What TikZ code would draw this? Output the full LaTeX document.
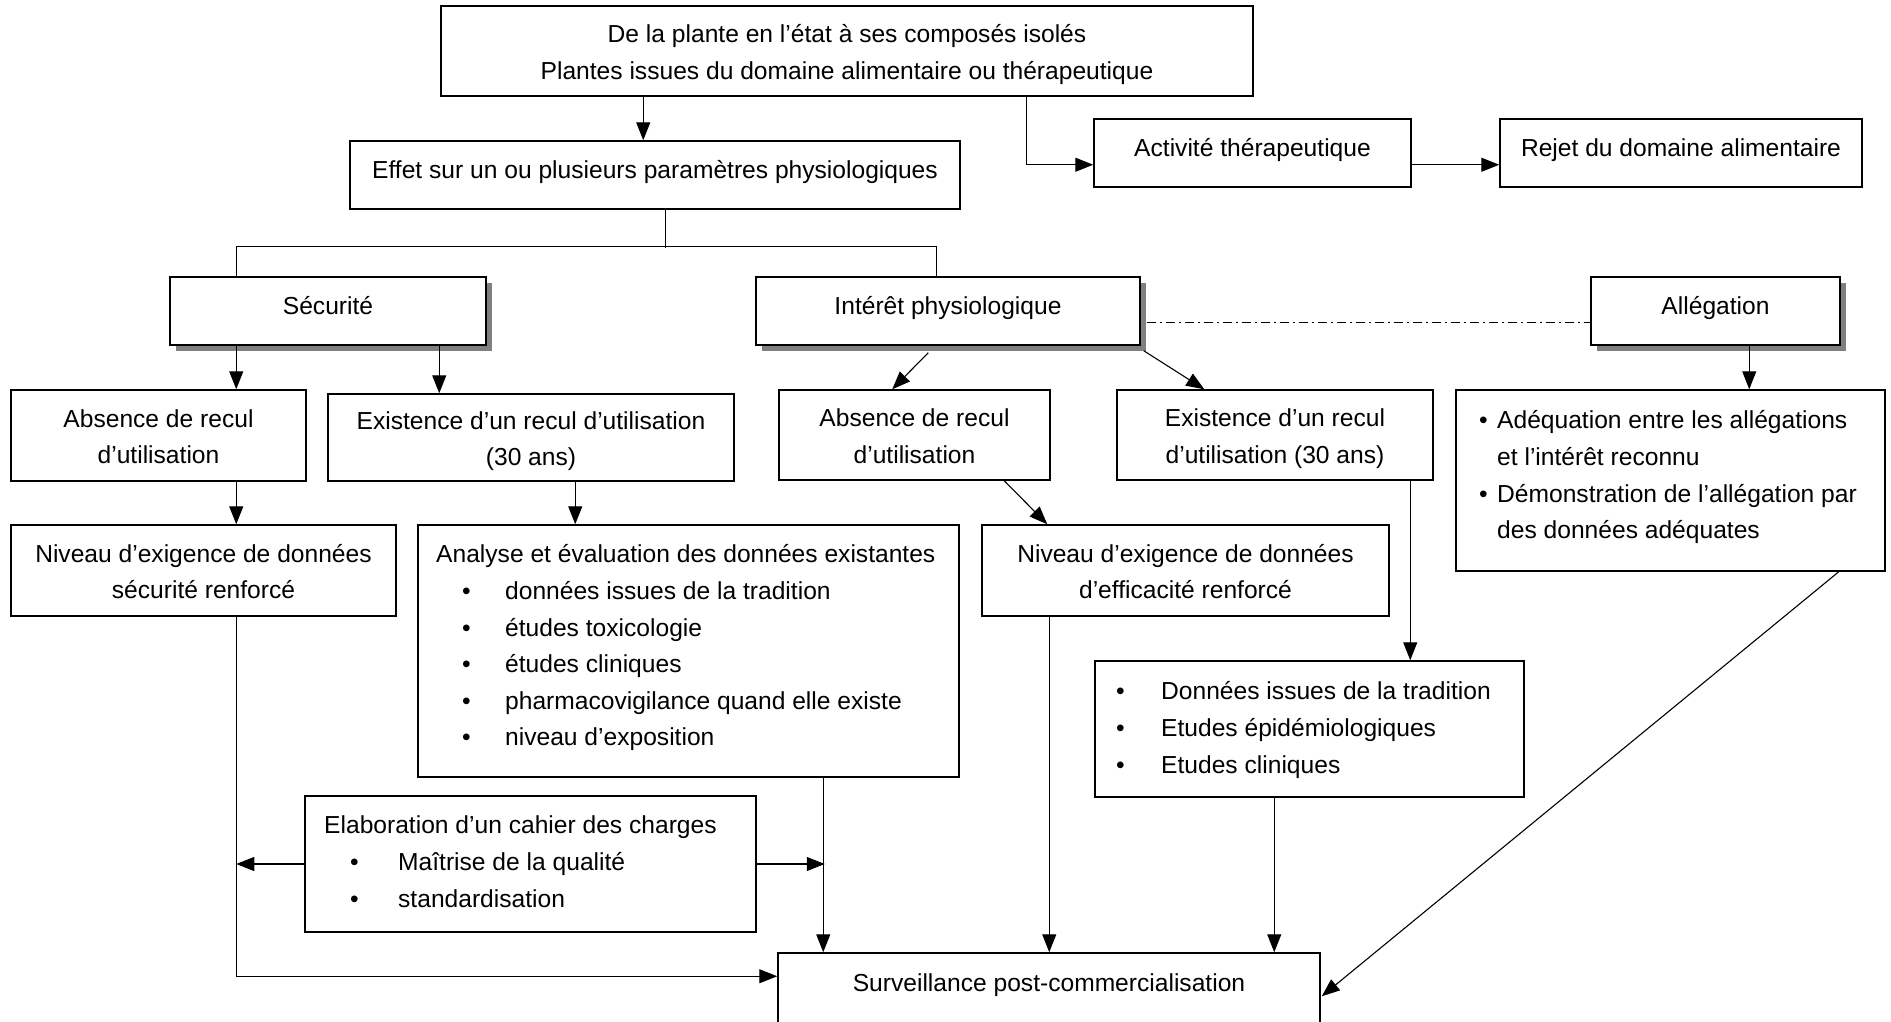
\documentclass[tikz,border=0pt]{standalone}
\usepackage{fontspec}
\setmainfont{Liberation Sans}
\usetikzlibrary{arrows.meta,calc,shadows}
\newcommand{\cl}[1]{\begin{tabular}{@{}c@{}}#1\end{tabular}}
\newcommand{\lft}[1]{\begin{tabular}{@{}l@{}}#1\end{tabular}}
\newcommand{\bul}[2]{\hspace*{#1}\makebox[#2][l]{•}}
\newcommand{\upx}{\rule[-19pt]{0pt}{19pt}}
\newcommand{\dnx}{\rule{0pt}{30.6pt}}
\tikzset{
  box/.style={draw, line width=1.5pt, rectangle, inner sep=0pt, fill=white},
  shad/.style={box, drop shadow={shadow xshift=6pt, shadow yshift=-6pt, fill=black!50, opacity=1}},
  txt/.style={inner sep=0pt},
  conn/.style={line width=1.1pt, -{Triangle[length=18pt,width=14pt]}},
  link/.style={line width=1.1pt},
  dashdot/.style={line width=1.1pt, dash pattern=on 9pt off 4pt on 2pt off 4pt},
}
\begin{document}
\begin{tikzpicture}[x=1pt, y=-1pt, font=\fontsize{24.6}{36.6}\selectfont]
\useasboundingbox (0,0) rectangle (1891,1021);
\fill[white] (0,0) rectangle (1891,1021);
\clip (0,0) rectangle (1891,1021);

% boxes
\node[box, minimum width=812pt, minimum height=90pt] (top) at (847,51)
  {\cl{\dnx De la plante en l’état à ses composés isolés\\Plantes issues du domaine alimentaire ou thérapeutique}};
\node[box, minimum width=610pt, minimum height=68pt] (effet) at (655,175)
  {\cl{Effet sur un ou plusieurs paramètres physiologiques\upx}};
\node[box, minimum width=317pt, minimum height=68pt] (activ) at (1252.5,153)
  {\cl{Activité thérapeutique\upx}};
\node[box, minimum width=362pt, minimum height=68pt] (rejet) at (1681,153)
  {\cl{Rejet du domaine alimentaire\upx}};

\node[shad, minimum width=316pt, minimum height=68pt] (secu) at (328,311) {\cl{Sécurité\upx}};
\node[shad, minimum width=384pt, minimum height=68pt] (interet) at (948,311) {\cl{Intérêt physiologique\upx}};
\node[shad, minimum width=249pt, minimum height=68pt] (alleg) at (1715.5,311) {\cl{Allégation\upx}};

\node[box, minimum width=295pt, minimum height=91pt] (abs1) at (158.5,435.5)
  {\cl{\dnx Absence de recul\\d’utilisation}};
\node[box, minimum width=406pt, minimum height=87pt] (exist1) at (531,437.5)
  {\cl{\dnx Existence d’un recul d’utilisation\\(30 ans)}};
\node[box, minimum width=271pt, minimum height=90pt] (abs2) at (914.5,435)
  {\cl{\dnx Absence de recul\\d’utilisation}};
\node[box, minimum width=316pt, minimum height=90pt] (exist2) at (1275,435)
  {\cl{\dnx Existence d’un recul\\d’utilisation (30 ans)}};
\node[box, minimum width=429pt, minimum height=181pt] (allegbox) at (1670.5,480.5) {};
\node[txt, anchor=north west] (allegtxt) at (1479,403)
  {\lft{\bul{0pt}{18pt}Adéquation entre les allégations\\
        \hspace*{18pt}et l’intérêt reconnu\\
        \bul{0pt}{18pt}Démonstration de l’allégation par\\
        \hspace*{18pt}des données adéquates}};

\node[box, minimum width=385pt, minimum height=91pt] (niv1) at (203.5,570.5)
  {\cl{\dnx Niveau d’exigence de données\\sécurité renforcé}};
\node[box, minimum width=541pt, minimum height=252pt] (analyse) at (688.5,651) {};
\node[txt, anchor=north west] (analysetxt) at (436,537)
  {\lft{Analyse et évaluation des données existantes\\
        \bul{26pt}{43pt}données issues de la tradition\\
        \bul{26pt}{43pt}études toxicologie\\
        \bul{26pt}{43pt}études cliniques\\
        \bul{26pt}{43pt}pharmacovigilance quand elle existe\\
        \bul{26pt}{43pt}niveau d’exposition}};
\node[box, minimum width=407pt, minimum height=91pt] (niv2) at (1185.5,570.5)
  {\cl{\dnx Niveau d’exigence de données\\d’efficacité renforcé}};
\node[box, minimum width=429pt, minimum height=136pt] (donnees) at (1309.5,729) {};
\node[txt, anchor=north west] (donneestxt) at (1116,674)
  {\lft{\bul{0pt}{45pt}Données issues de la tradition\\
        \bul{0pt}{45pt}Etudes épidémiologiques\\
        \bul{0pt}{45pt}Etudes cliniques}};
\node[box, minimum width=451pt, minimum height=136pt] (elab) at (530.5,864) {};
\node[txt, anchor=north west] (elabtxt) at (324,808)
  {\lft{Elaboration d’un cahier des charges\\
        \bul{26pt}{48pt}Maîtrise de la qualité\\
        \bul{26pt}{48pt}standardisation}};
\node[box, minimum width=542pt, minimum height=82pt] (surv) at (1049,994)
  {\cl{Surveillance post-commercialisation\rule[-30pt]{0pt}{30pt}}};

% connectors
\draw[conn] ($(top.south west)+(203,0)$) -- ($(effet.north west)+(294,0)$);
\draw[conn] ($(top.south west)+(586,0)$) |- ($(activ.south west)+(0,-23)$);
\draw[conn] ($(activ.south east)+(0,-23)$) -- ($(rejet.south west)+(0,-23)$);

\draw[link] ($(effet.south west)+(316,0)$) -- ++(0,38);
\draw[link] ($(secu.north west)+(67,0)$) -- ++(0,-30) -| ($(interet.north west)+(181,0)$);

\draw[conn] ($(secu.south west)+(67,0)$) -- ($(abs1.north west)+(226,0)$);
\draw[conn] ($(secu.south west)+(270,0)$) -- ($(exist1.north west)+(112,0)$);
\draw[conn] ($(interet.south west)+(173,7)$) -- ($(abs2.north west)+(114,0)$);
\draw[conn] ($(interet.south east)+(3,5)$) -- ($(exist2.north west)+(88,0)$);
\draw[dashdot] ($(interet.south east)+(6,-23)$) -- ($(alleg.south west)+(0,-23)$);
\draw[conn] ($(alleg.south west)+(159,0)$) -- ($(allegbox.north west)+(294,0)$);

\draw[conn] ($(abs1.south west)+(226,0)$) -- ($(niv1.north west)+(226,0)$);
\draw[conn] ($(exist1.south west)+(248,0)$) -- ($(analyse.north west)+(158,0)$);
\draw[conn] ($(abs2.south west)+(226,0)$) -- ($(niv2.north west)+(66,0)$);
\draw[conn] ($(exist2.south west)+(294,0)$) -- ($(donnees.north west)+(316,0)$);

\draw[conn] ($(niv1.south west)+(226,0)$) |- ($(surv.north west)+(0,24)$);
\draw[conn] (elab.west) -- ($(elab.west)+(-68,0)$);
\draw[conn] (elab.east) -- ($(elab.east)+(68,0)$);
\draw[conn] ($(analyse.south west)+(406,0)$) -- ($(surv.north west)+(46,0)$);
\draw[conn] ($(niv2.south west)+(68,0)$) -- ($(surv.north west)+(272,0)$);
\draw[conn] ($(donnees.south west)+(180,0)$) -- ($(surv.north west)+(497,0)$);
\draw[conn] ($(allegbox.south east)+(-47,0)$) -- ($(surv.north east)+(1,44)$);
\end{tikzpicture}
\end{document}
